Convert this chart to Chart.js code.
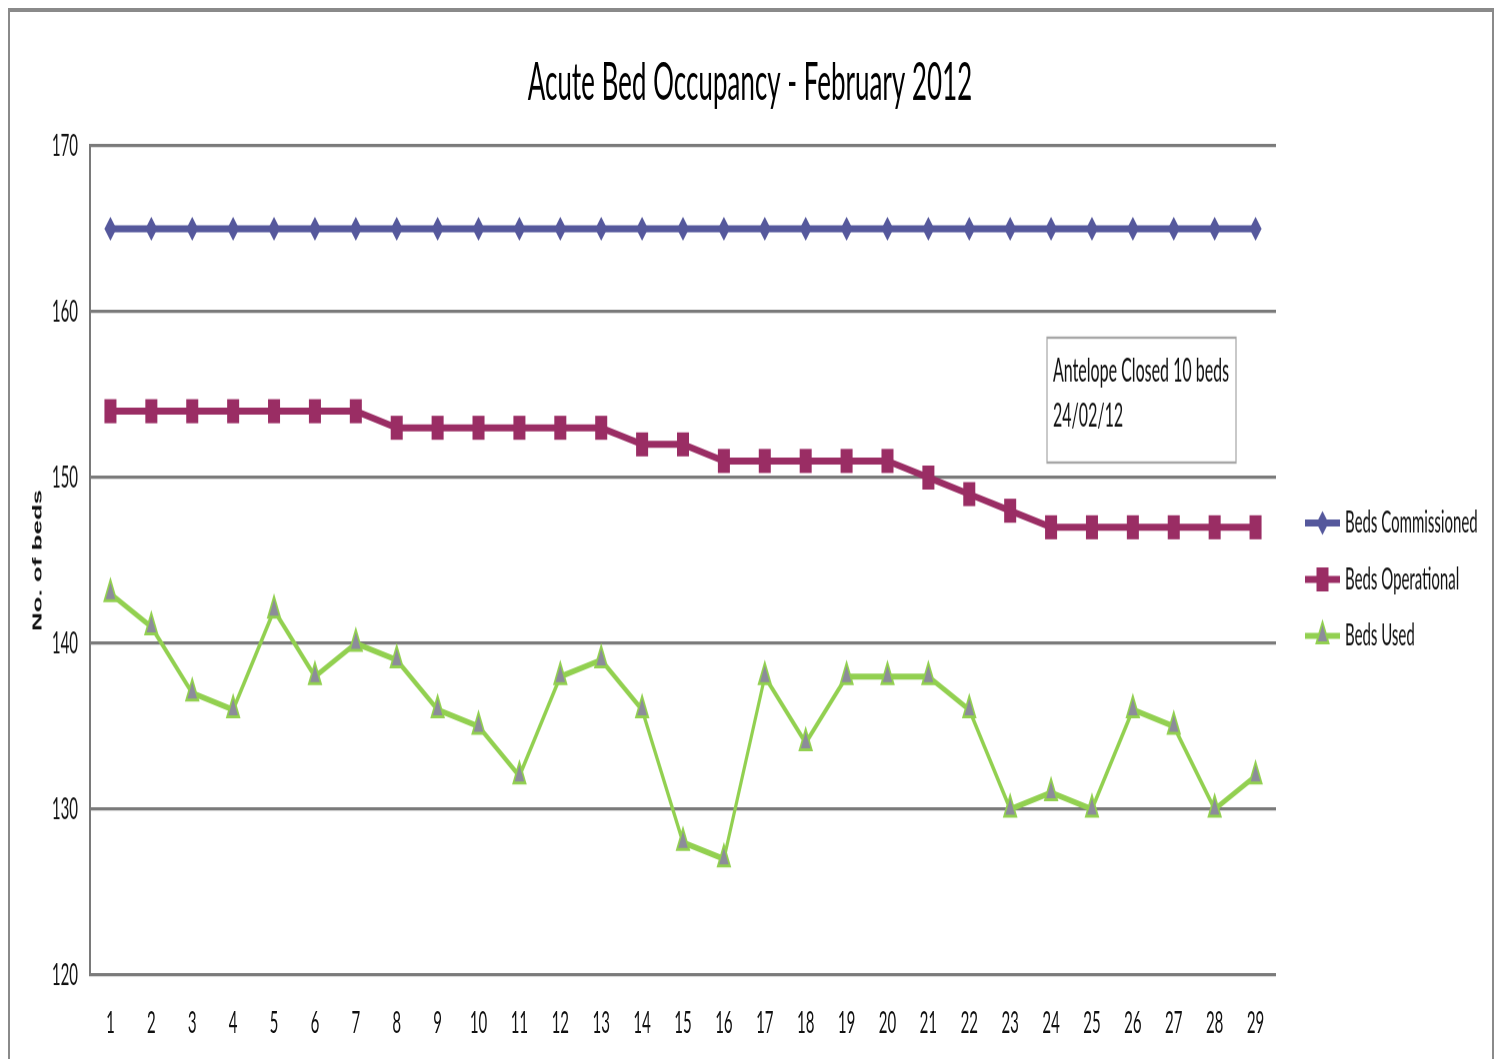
<!DOCTYPE html>
<html>
<head>
<meta charset="utf-8">
<title>Acute Bed Occupancy - February 2012</title>
<script src="https://cdn.jsdelivr.net/npm/chart.js@4/dist/chart.umd.min.js"></script>
<style>
  html, body { margin: 0; padding: 0; background: #fff; overflow: hidden; }
  /* the chart is laid out at half height and stretched tall, like the original sheet export */
  #wrap {
    position: absolute; left: 0; top: 0;
    width: 1500px; height: 530px;
    transform-origin: 0 0;
    transform: scaleY(1.998);
  }
</style>
</head>
<body>
<div id="wrap"><canvas id="chart"></canvas></div>
<script>
// Days of February 2012
const days = ['1','2','3','4','5','6','7','8','9','10','11','12','13','14','15',
              '16','17','18','19','20','21','22','23','24','25','26','27','28','29'];

const bedsCommissioned = [165,165,165,165,165,165,165,165,165,165,165,165,165,165,165,
                          165,165,165,165,165,165,165,165,165,165,165,165,165,165];

const bedsOperational = [154,154,154,154,154,154,154,153,153,153,153,153,153,152,152,
                         151,151,151,151,151,150,149,148,147,147,147,147,147,147];

const bedsUsed = [143,141,137,136,142,138,140,139,136,135,132,138,139,136,128,
                  127,138,134,138,138,138,136,130,131,130,136,135,130,132];

const yTickValues = [120, 130, 140, 150, 160, 170];

const chartTitle = 'Acute Bed Occupancy - February 2012';
const yAxisTitle = 'No. of beds';
const noteLines = ['Antelope Closed 10 beds', '24/02/12'];

const FONT = "Lato, 'Open Sans', sans-serif";
const TEXT = '#111';
const GRID = '#7a7a7a';

const seriesStyles = [
  { label: 'Beds Commissioned', data: bedsCommissioned, color: '#55589c', fill: '#55589c',
    pointStyle: 'rectRot', radius: 6, borderWidth: 3.5, pointBorderWidth: 0 },
  { label: 'Beds Operational', data: bedsOperational, color: '#9a2d64', fill: '#9a2d64',
    pointStyle: 'rect', radius: 8.5, borderWidth: 3.5, pointBorderWidth: 0 },
  { label: 'Beds Used', data: bedsUsed, color: '#92d050', fill: '#8c8c9a',
    pointStyle: 'triangle', radius: 7, borderWidth: 3, pointBorderWidth: 1.5 }
];

const datasets = seriesStyles.map(s => ({
  label: s.label,
  data: s.data,
  borderColor: s.color,
  backgroundColor: s.fill,
  borderWidth: s.borderWidth,
  pointStyle: s.pointStyle,
  pointRadius: s.radius,
  pointHoverRadius: s.radius,
  pointBackgroundColor: s.fill,
  pointBorderColor: s.color,
  pointBorderWidth: s.pointBorderWidth,
  tension: 0,
  fill: false
}));

// Title, legend, note box and outer frame
const decorations = {
  id: 'decorations',
  afterDraw(chart) {
    const ctx = chart.ctx;
    ctx.save();

    // outer frame
    ctx.strokeStyle = '#8a8a8a';
    ctx.lineWidth = 2;
    ctx.strokeRect(9, 5, 1484, 540);

    // title
    ctx.fillStyle = '#000';
    ctx.font = '26px ' + FONT;
    ctx.textAlign = 'center';
    ctx.textBaseline = 'middle';
    ctx.fillText(chartTitle, 750, 41.5);

    // note box
    ctx.fillStyle = '#fff';
    ctx.fillRect(1047, 169, 189, 62.5);
    ctx.strokeStyle = '#a6a6a6';
    ctx.lineWidth = 1.2;
    ctx.strokeRect(1047, 169, 189, 62.5);
    ctx.fillStyle = TEXT;
    ctx.font = '16px ' + FONT;
    ctx.textAlign = 'left';
    noteLines.forEach((t, i) => ctx.fillText(t, 1053, 186 + i * 22.5));

    // legend
    const x0 = 1305, x1 = 1340, tx = 1345;
    chart.data.datasets.forEach((ds, i) => {
      const y = 261.7 + i * 28.3;
      ctx.strokeStyle = ds.borderColor;
      ctx.lineWidth = ds.borderWidth;
      ctx.beginPath();
      ctx.moveTo(x0, y);
      ctx.lineTo(x1, y);
      ctx.stroke();
      ctx.fillStyle = ds.pointBackgroundColor;
      ctx.strokeStyle = ds.pointBorderColor;
      ctx.lineWidth = ds.pointBorderWidth;
      Chart.helpers.drawPoint(ctx, {
        pointStyle: ds.pointStyle,
        radius: ds.pointRadius,
        rotation: 0,
        borderWidth: ds.pointBorderWidth
      }, (x0 + x1) / 2, y);
      ctx.fillStyle = TEXT;
      ctx.font = '15px ' + FONT;
      ctx.textAlign = 'left';
      ctx.textBaseline = 'middle';
      ctx.fillText(ds.label, tx, y);
    });

    ctx.restore();
  }
};

new Chart(document.getElementById('chart'), {
  type: 'line',
  data: { labels: days, datasets },
  options: {
    responsive: true,
    maintainAspectRatio: false,
    devicePixelRatio: 2,
    animation: false,
    events: [],
    layout: { padding: { top: 73, right: 224, bottom: 0, left: 0 } },
    plugins: {
      legend: { display: false },
      title: { display: false },
      tooltip: { enabled: false }
    },
    scales: {
      x: {
        offset: true,
        grid: { display: false, drawTicks: false },
        border: { display: false },
        ticks: { color: TEXT, font: { family: FONT, size: 15 }, padding: 15, maxRotation: 0, autoSkip: false },
        afterFit(scale) { scale.height = 42; }
      },
      y: {
        min: yTickValues[0],
        max: yTickValues[yTickValues.length - 1],
        afterBuildTicks(scale) { scale.ticks = yTickValues.map(v => ({ value: v })); },
        grid: { color: GRID, lineWidth: 1.6, drawTicks: false },
        border: { display: true, color: GRID, width: 2 },
        ticks: { color: TEXT, font: { family: FONT, size: 15 }, padding: 12 },
        title: {
          display: true,
          text: yAxisTitle,
          color: TEXT,
          font: { family: "'Liberation Sans', Arial, sans-serif", size: 13, weight: 'bold' },
          padding: { top: 30, bottom: 0 }
        },
        afterFit(scale) { scale.width = 90; }
      }
    }
  },
  plugins: [decorations]
});
</script>
</body>
</html>
